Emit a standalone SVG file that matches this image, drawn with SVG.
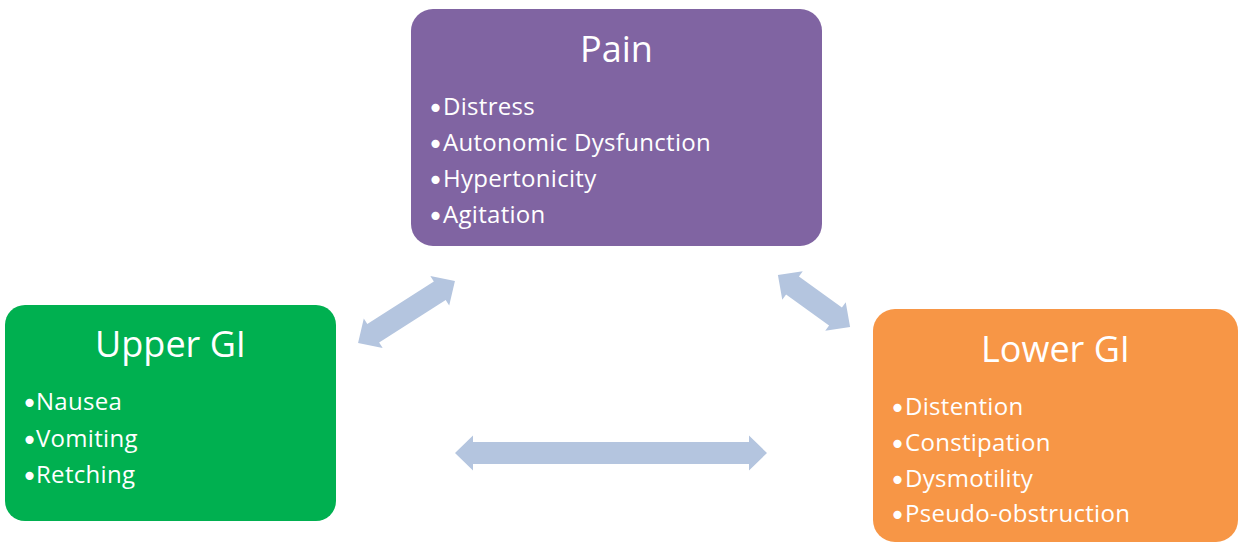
<svg xmlns="http://www.w3.org/2000/svg" width="1239" height="551" viewBox="0 0 1239 551">
  <style>
    .title { font-family: "Open Sans", Lato, sans-serif; font-size: 36px; fill: #ffffff; text-anchor: middle; }
    .item { font-family: "Open Sans", Lato, sans-serif; font-size: 24px; letter-spacing: 0.3px; fill: #ffffff; }
    .bul { font-family: "DejaVu Sans", sans-serif; font-size: 28px; letter-spacing: 0; text-anchor: middle; }
    .arrow { fill: #B4C5DF; }
  </style>
  <rect width="1239" height="551" fill="#ffffff"/>
  <g id="connectors">
    <path class="arrow" transform="translate(611,453)" d="M -156 0 L -138 -17.5 L -138 -11 L 138 -11 L 138 -17.5 L 156 0 L 138 17.5 L 138 11 L -138 11 L -138 17.5 Z"/>
    <path class="arrow" transform="translate(406.5,312) rotate(-32.6)" d="M -57.5 0 L -39.5 -17.5 L -39.5 -11 L 39.5 -11 L 39.5 -17.5 L 57.5 0 L 39.5 17.5 L 39.5 11 L -39.5 11 L -39.5 17.5 Z"/>
    <path class="arrow" transform="translate(814,301) rotate(35.8)" d="M -44.5 0 L -26.5 -17.5 L -26.5 -11 L 26.5 -11 L 26.5 -17.5 L 44.5 0 L 26.5 17.5 L 26.5 11 L -26.5 11 L -26.5 17.5 Z"/>
  </g>
  <g id="pain">
    <rect x="411" y="9" width="411" height="237" rx="22" fill="#8064A2"/>
    <text class="title" x="616.5" y="62">Pain</text>
    <text class="item" y="115"><tspan class="bul" x="435.5" dy="3">•</tspan><tspan x="443" dy="-3">Distress</tspan></text>
    <text class="item" y="151"><tspan class="bul" x="435.5" dy="3">•</tspan><tspan x="443" dy="-3">Autonomic Dysfunction</tspan></text>
    <text class="item" y="187"><tspan class="bul" x="435.5" dy="3">•</tspan><tspan x="443" dy="-3">Hypertonicity</tspan></text>
    <text class="item" y="223"><tspan class="bul" x="435.5" dy="3">•</tspan><tspan x="443" dy="-3">Agitation</tspan></text>
  </g>
  <g id="upper-gi">
    <rect x="5" y="305" width="331" height="216" rx="20" fill="#00B050"/>
    <text class="title" x="170.5" y="357">Upper GI</text>
    <text class="item" y="410"><tspan class="bul" x="29.5" dy="3">•</tspan><tspan x="36" dy="-3">Nausea</tspan></text>
    <text class="item" y="447"><tspan class="bul" x="29.5" dy="3">•</tspan><tspan x="36" dy="-3">Vomiting</tspan></text>
    <text class="item" y="483"><tspan class="bul" x="29.5" dy="3">•</tspan><tspan x="36" dy="-3">Retching</tspan></text>
  </g>
  <g id="lower-gi">
    <rect x="873" y="309" width="365" height="233" rx="22" fill="#F79646"/>
    <text class="title" x="1055.5" y="362">Lower GI</text>
    <text class="item" y="415"><tspan class="bul" x="897.5" dy="3">•</tspan><tspan x="905" dy="-3">Distention</tspan></text>
    <text class="item" y="451"><tspan class="bul" x="897.5" dy="3">•</tspan><tspan x="905" dy="-3">Constipation</tspan></text>
    <text class="item" y="487"><tspan class="bul" x="897.5" dy="3">•</tspan><tspan x="905" dy="-3">Dysmotility</tspan></text>
    <text class="item" y="522"><tspan class="bul" x="897.5" dy="3">•</tspan><tspan x="905" dy="-3">Pseudo-obstruction</tspan></text>
  </g>
</svg>
